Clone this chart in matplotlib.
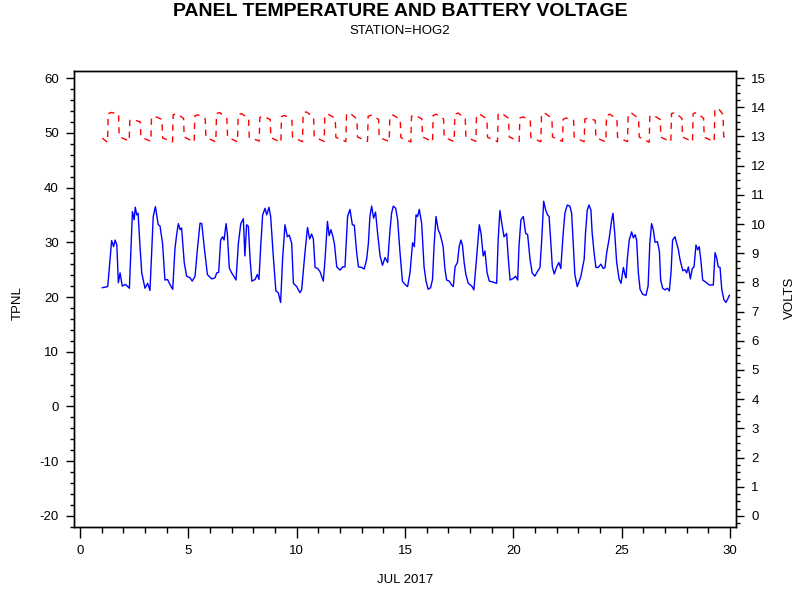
import matplotlib
matplotlib.use("Agg")
import matplotlib.pyplot as plt
from matplotlib.ticker import MultipleLocator

plt.rcParams['font.family'] = ['Liberation Sans', 'DejaVu Sans']
plt.rcParams['axes.unicode_minus'] = False

# Panel temperature (TPNL) readings: day of July 2017, value
temp_t = [1.03, 1.28, 1.46, 1.55, 1.62, 1.70, 1.77, 1.85, 1.95, 2.10, 2.28, 2.42, 2.50, 2.55, 2.62, 2.68,
          2.77, 2.85, 3.00, 3.12, 3.23, 3.38, 3.48, 3.61, 3.69, 3.81, 3.92, 4.04, 4.15, 4.28, 4.38, 4.46,
          4.54, 4.62, 4.69, 4.81, 4.92, 5.08, 5.18, 5.31, 5.43, 5.54, 5.62, 5.74, 5.88, 6.08, 6.23, 6.31,
          6.40, 6.49, 6.58, 6.65, 6.74, 6.80, 6.89, 7.00, 7.10, 7.20, 7.31, 7.42, 7.54, 7.61, 7.69, 7.77,
          7.85, 7.93, 8.08, 8.18, 8.26, 8.34, 8.43, 8.54, 8.62, 8.72, 8.80, 8.92, 9.04, 9.15, 9.26, 9.35,
          9.46, 9.57, 9.66, 9.77, 9.85, 10.00, 10.15, 10.23, 10.38, 10.50, 10.60, 10.69, 10.77, 10.85,
          10.97, 11.08, 11.23, 11.31, 11.42, 11.50, 11.58, 11.66, 11.74, 11.85, 12.00, 12.12, 12.23,
          12.35, 12.46, 12.57, 12.66, 12.77, 12.85, 13.00, 13.12, 13.23, 13.31, 13.38, 13.46, 13.55,
          13.64, 13.74, 13.85, 13.96, 14.08, 14.20, 14.30, 14.38, 14.46, 14.57, 14.66, 14.77, 14.88,
          15.00, 15.12, 15.23, 15.35, 15.43, 15.51, 15.58, 15.66, 15.77, 15.88, 15.97, 16.07, 16.18,
          16.27, 16.34, 16.43, 16.53, 16.61, 16.69, 16.76, 16.84, 16.92, 17.04, 17.15, 17.23, 17.31,
          17.42, 17.50, 17.58, 17.65, 17.73, 17.81, 17.92, 18.08, 18.18, 18.30, 18.43, 18.51, 18.61,
          18.69, 18.79, 18.89, 19.08, 19.23, 19.30, 19.38, 19.47, 19.57, 19.69, 19.77, 19.85, 20.00,
          20.10, 20.20, 20.26, 20.35, 20.46, 20.57, 20.66, 20.77, 20.87, 20.99, 21.12, 21.23, 21.31,
          21.40, 21.49, 21.58, 21.65, 21.72, 21.80, 21.89, 22.00, 22.10, 22.19, 22.30, 22.38, 22.49,
          22.61, 22.69, 22.77, 22.84, 22.95, 23.12, 23.19, 23.27, 23.33, 23.41, 23.49, 23.58, 23.64,
          23.73, 23.81, 23.92, 24.04, 24.15, 24.23, 24.31, 24.42, 24.54, 24.60, 24.68, 24.77, 24.88,
          24.97, 25.08, 25.15, 25.20, 25.26, 25.35, 25.46, 25.54, 25.62, 25.69, 25.77, 25.85, 25.97,
          26.12, 26.22, 26.30, 26.38, 26.46, 26.54, 26.65, 26.74, 26.80, 26.89, 27.00, 27.11, 27.20,
          27.28, 27.35, 27.46, 27.54, 27.62, 27.69, 27.82, 27.92, 28.00, 28.08, 28.17, 28.26, 28.34,
          28.43, 28.51, 28.58, 28.65, 28.74, 28.85, 28.95, 29.04, 29.15, 29.23, 29.31, 29.38, 29.46,
          29.54, 29.62, 29.72, 29.81, 29.88, 29.97]
temp_v = [21.7, 21.9, 30.3, 29.2, 30.4, 29.5, 22.6, 24.4, 22.0, 22.3, 21.6, 35.6, 34.1, 36.4, 35.0, 35.3,
          29.2, 24.4, 21.6, 22.5, 21.2, 34.7, 36.5, 33.2, 33.0, 29.8, 23.1, 23.2, 22.3, 21.4, 28.7, 31.4,
          33.4, 32.3, 32.6, 26.3, 23.8, 23.5, 22.9, 23.8, 29.2, 33.5, 33.4, 28.9, 24.1, 23.3, 23.5, 24.4,
          24.5, 30.4, 31.0, 30.4, 33.4, 31.6, 25.3, 24.4, 23.8, 23.1, 29.8, 33.4, 34.3, 27.5, 33.2, 32.9,
          26.9, 22.9, 23.2, 24.1, 23.2, 29.2, 35.0, 36.2, 35.0, 36.4, 34.7, 27.5, 21.1, 20.8, 19.0, 26.9,
          33.2, 31.0, 31.3, 29.8, 22.5, 21.9, 20.8, 21.3, 28.0, 32.7, 30.6, 31.5, 30.6, 25.4,
          25.2, 24.6, 22.9, 26.9, 33.8, 31.2, 32.3, 31.2, 29.8, 25.5, 24.9, 25.5, 25.5,
          34.7, 36.0, 33.2, 33.1, 28.1, 25.5, 25.4, 25.1, 26.9, 29.8, 34.7, 36.6, 34.4,
          35.5, 31.5, 27.5, 25.8, 27.2, 26.3, 31.8, 35.3, 36.6, 36.2, 34.1, 28.1, 22.9,
          22.3, 21.9, 24.4, 29.9, 29.2, 35.0, 34.7, 36.0, 33.4, 25.5, 22.9, 21.4, 21.7,
          23.2, 29.2, 34.7, 32.3, 31.6, 30.4, 29.2, 25.2, 23.1, 22.9, 22.2, 21.9, 25.5,
          26.3, 29.2, 30.4, 29.5, 26.3, 24.1, 22.5, 22.0, 21.3, 26.9, 33.2, 31.6, 27.5,
          28.4, 24.4, 22.9, 22.7, 22.5, 30.4, 35.8, 33.4, 31.0, 31.6, 26.9, 23.1, 23.4,
          23.8, 23.1, 29.2, 34.1, 34.7, 31.6, 31.4, 26.9, 24.4, 23.8, 24.7, 25.4, 30.4,
          37.5, 35.9, 35.0, 34.7, 30.6, 25.5, 24.2, 25.5, 26.3, 25.2, 31.6, 35.3, 36.8,
          36.6, 35.3, 29.2, 24.1, 21.9, 23.8, 25.3, 26.9, 31.6, 35.8, 36.8, 35.9, 31.6,
          28.0, 25.4, 25.4, 26.0, 25.2, 25.4, 28.1, 30.6, 34.1, 35.3, 31.6, 26.3, 23.3,
          22.5, 25.4, 24.1, 23.5, 26.9, 30.4, 31.9, 30.8, 31.4, 30.4, 24.4, 21.4, 20.5,
          20.3, 22.0, 29.8, 33.4, 32.3, 30.0, 30.1, 28.4, 23.1, 21.6, 21.3, 21.6, 21.1,
          24.6, 30.4, 31.0, 29.8, 28.6, 26.9, 24.8, 25.0, 24.4, 25.5, 23.3, 25.2, 25.5,
          29.5, 28.6, 29.2, 26.9, 23.1, 22.8, 22.5, 22.2, 22.2, 22.2, 28.1, 27.2, 25.5,
          25.4, 21.4, 19.5, 19.0, 19.5, 20.3]

# Battery voltage readings: day of July 2017, volts
volt_t = [1.03, 1.27,
          1.30, 1.45, 1.78, 1.81, 2.27, 2.30, 2.50, 2.78, 2.81, 3.27,
          3.30, 3.45, 3.78, 3.81, 4.27, 4.30, 4.45, 4.78, 4.81, 5.27,
          5.30, 5.45, 5.78, 5.81, 6.27, 6.30, 6.45, 6.78, 6.81, 7.27,
          7.30, 7.45, 7.78, 7.81, 8.27, 8.30, 8.45, 8.78, 8.81, 9.27,
          9.30, 9.45, 9.78, 9.81, 10.27, 10.30, 10.45, 10.78, 10.81, 11.27,
          11.30, 11.45, 11.78, 11.81, 12.27, 12.30, 12.45, 12.78, 12.81, 13.27,
          13.30, 13.45, 13.78, 13.81, 14.27, 14.30, 14.45, 14.78, 14.81, 15.27,
          15.30, 15.45, 15.78, 15.81, 16.27, 16.30, 16.45, 16.78, 16.81, 17.27,
          17.30, 17.45, 17.78, 17.81, 18.27, 18.30, 18.45, 18.78, 18.81, 19.27,
          19.30, 19.45, 19.78, 19.81, 20.27, 20.30, 20.45, 20.78, 20.81, 21.27,
          21.30, 21.45, 21.78, 21.81, 22.27, 22.30, 22.45, 22.78, 22.81, 23.27,
          23.30, 23.45, 23.78, 23.81, 24.27, 24.30, 24.45, 24.78, 24.81, 25.27,
          25.30, 25.45, 25.78, 25.81, 26.27, 26.30, 26.45, 26.78, 26.81, 27.27,
          27.30, 27.45, 27.78, 27.81, 28.27, 28.30, 28.45, 28.78, 28.81, 29.27,
          29.30, 29.45, 29.68, 29.71, 29.97]
volt_v = [12.94, 12.80,
          13.78, 13.82, 13.76, 12.99, 12.84, 13.55, 13.56, 13.50, 12.98, 12.83,
          13.65, 13.69, 13.58, 12.95, 12.81, 13.74, 13.78, 13.62, 12.98, 12.81,
          13.70, 13.74, 13.60, 12.97, 12.81, 13.78, 13.82, 13.60, 12.98, 12.81,
          13.74, 13.78, 13.62, 12.97, 12.84, 13.65, 13.69, 13.58, 12.96, 12.79,
          13.68, 13.72, 13.55, 12.97, 12.82, 13.80, 13.84, 13.66, 12.98, 12.83,
          13.72, 13.76, 13.62, 12.97, 12.82, 13.76, 13.80, 13.60, 12.98, 12.83,
          13.69, 13.73, 13.58, 12.97, 12.82, 13.69, 13.73, 13.58, 12.96, 12.81,
          13.69, 13.73, 13.60, 12.98, 12.82, 13.72, 13.76, 13.60, 12.97, 12.82,
          13.76, 13.80, 13.62, 12.98, 12.83, 13.72, 13.76, 13.60, 12.97, 12.82,
          13.76, 13.80, 13.62, 12.98, 12.83, 13.63, 13.67, 13.55, 12.96, 12.82,
          13.76, 13.80, 13.62, 12.98, 12.83, 13.59, 13.63, 13.55, 12.97, 12.82,
          13.59, 13.63, 13.55, 12.96, 12.81, 13.72, 13.76, 13.60, 12.97, 12.82,
          13.76, 13.80, 13.62, 12.98, 12.80, 13.69, 13.73, 13.58, 12.97, 12.82,
          13.78, 13.82, 13.62, 12.98, 12.82, 13.78, 13.82, 13.62, 12.97, 12.82,
          13.90, 13.97, 13.75, 12.98, 12.95]

x_ticks = [0, 5, 10, 15, 20, 25, 30]
tpnl_ticks = [-20, -10, 0, 10, 20, 30, 40, 50, 60]
volt_ticks = list(range(0, 16))

fig = plt.figure(figsize=(8, 6), dpi=100)
ax = fig.add_axes([74/800, 1-527/600, 662/800, 456/600])
ax2 = ax.twinx()

ax.plot(temp_t, temp_v, color='#0000ff', lw=1.0)
ax2.plot(volt_t, volt_v, color='#ff0000', lw=1.0, linestyle=(0, (4.5, 4)))

ax.set_xlim(-0.277, 30.277)
ax.set_ylim(-22.01, 61.28)
ax2.set_ylim(-0.377, 15.24)

ax.set_xticks(x_ticks)
ax.xaxis.set_minor_locator(MultipleLocator(1))
ax.set_yticks(tpnl_ticks)
ax.yaxis.set_minor_locator(MultipleLocator(2))
ax2.set_yticks(volt_ticks)
ax2.yaxis.set_minor_locator(MultipleLocator(0.25))

for a in (ax, ax2):
    for s in a.spines.values():
        s.set_linewidth(1.0)
        s.set_color('black')
ax.tick_params(axis='x', which='major', direction='out', length=8, width=1, pad=5, labelsize=9.5)
ax.tick_params(axis='x', which='minor', direction='out', length=4, width=1)
ax.tick_params(axis='y', which='major', direction='out', length=6, width=1, pad=5, labelsize=9.5)
ax.tick_params(axis='y', which='minor', direction='out', length=3, width=1)
ax2.tick_params(axis='y', which='major', direction='out', length=6, width=1, pad=5, labelsize=9.5)
ax2.tick_params(axis='y', which='minor', direction='out', length=3, width=1)

fig.text(0.5, 1-12/600, 'PANEL TEMPERATURE AND BATTERY VOLTAGE', ha='center', va='center',
         fontsize=14, fontweight='bold')
fig.text(0.5, 1-31/600, 'STATION=HOG2', ha='center', va='center', fontsize=9.5)
fig.text(18/800, 1-303/600, 'TPNL', rotation=90, ha='center', va='center', fontsize=9.5)
fig.text(790/800, 1-298/600, 'VOLTS', rotation=90, ha='center', va='center', fontsize=9.5)
fig.text(405/800, 1-580/600, 'JUL 2017', ha='center', va='center', fontsize=9.5)

fig.savefig('out.png', dpi=100)
